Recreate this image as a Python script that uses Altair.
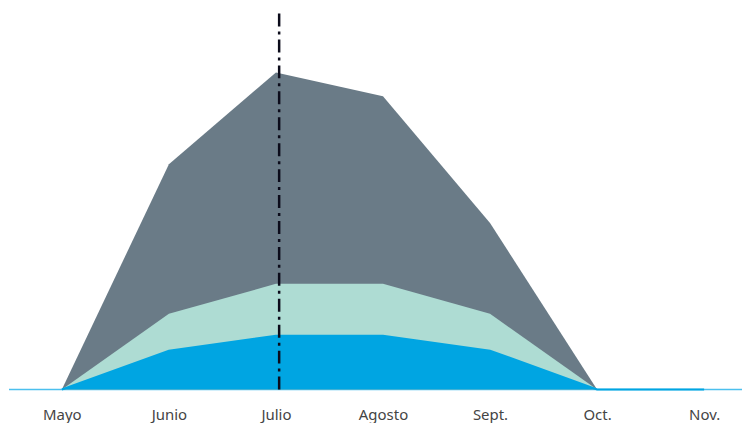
import altair as alt
import pandas as pd

months = ["Mayo", "Junio", "Julio", "Agosto", "Sept.", "Oct.", "Nov."]
gray_vals = [0, 226, 318, 294, 167, 0, None]
green_vals = [0, 76, 106, 106, 76, 0, None]
blue_vals = [0, 39, 54, 54, 39, 0, 0]
marker_month = [2.03]  # Julio
baseline_val = [0]
marker_top = [380]

rows = []
for name, vals in [("gray", gray_vals), ("green", green_vals), ("blue", blue_vals)]:
    for i, v in enumerate(vals):
        if v is not None:
            rows.append({"serie": name, "idx": i, "valor": v})
df = pd.DataFrame(rows)

xscale = alt.Scale(domain=[-0.4938, 6.354], nice=False, zero=False)
yscale = alt.Scale(domain=[0, 380], nice=False)
label_expr = "[" + ",".join(f"'{m}'" for m in months) + "][datum.value]"
xaxis = alt.Axis(values=list(range(len(months))), labelExpr=label_expr, title=None,
                 domain=False, ticks=False, grid=False, labelPadding=18,
                 labelFontSize=15, labelColor="#444444", labelFont="Noto Sans",
                 labelFontWeight="normal")

def area(name, color):
    return alt.Chart(df[df.serie == name]).mark_area(color=color, opacity=1).encode(
        x=alt.X("idx:Q", scale=xscale, axis=xaxis),
        y=alt.Y("valor:Q", scale=yscale, axis=None, stack=None),
    )

blue_line = alt.Chart(df[df.serie == "blue"]).mark_line(color="#00a5e2", strokeWidth=2).encode(
    x=alt.X("idx:Q", scale=xscale, axis=xaxis),
    y=alt.Y("valor:Q", scale=yscale, axis=None),
)

baseline = alt.Chart(pd.DataFrame({"y": baseline_val})).mark_rule(color="#4cc0ee", strokeWidth=1.5).encode(
    y=alt.Y("y:Q", scale=yscale, axis=None),
)

rule_df = pd.DataFrame({"idx": marker_month, "y": baseline_val, "y2": marker_top})
rule = alt.Chart(rule_df).mark_rule(color="#0b0b1a", strokeWidth=2.5, strokeDash=[13, 5, 3, 5]).encode(
    x=alt.X("idx:Q", scale=xscale, axis=xaxis),
    y=alt.Y("y:Q", scale=yscale, axis=None),
    y2=alt.Y2("y2"),
)

chart = alt.layer(
    baseline,
    area("gray", "#6a7b87"),
    area("green", "#aedcd3"),
    area("blue", "#00a5e2"),
    blue_line,
    rule,
).properties(width=735, height=380, padding=0).configure_view(stroke=None)

chart.save("out.html", embed_options={"renderer": "svg", "actions": False})
